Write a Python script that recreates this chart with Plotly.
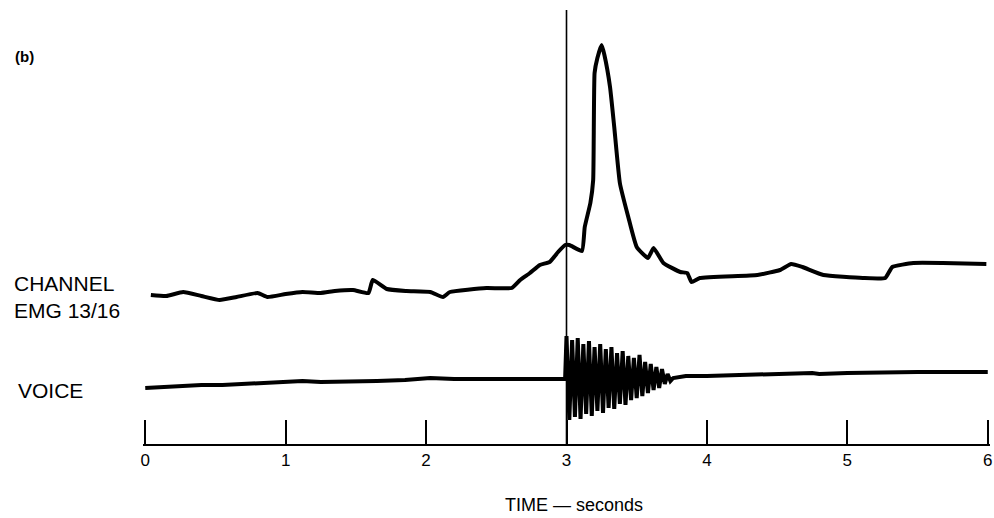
import plotly.graph_objects as go

# ---- data (x in seconds, y in trace amplitude units above the time axis) ----
emg_t = [0.04, 0.15, 0.27, 0.40, 0.53, 0.65, 0.80, 0.87, 1.00, 1.12, 1.25, 1.35, 1.48,
         1.59, 1.62, 1.72, 1.86, 2.03, 2.12, 2.17, 2.43, 2.61, 2.67, 2.74, 2.81, 2.88,
         2.94, 2.99, 3.02, 3.11, 3.13, 3.17, 3.19, 3.20, 3.22, 3.25, 3.27, 3.31, 3.34,
         3.38, 3.44, 3.50, 3.58, 3.62, 3.69, 3.81, 3.86, 3.89, 3.95, 4.36, 4.52, 4.60,
         4.68, 4.83, 5.11, 5.27, 5.32, 5.47, 5.68, 5.99]
emg_v = [149, 148, 152, 148, 144, 147, 151, 147, 150, 152, 151, 153, 154,
         151, 164, 155, 153, 152, 147, 152, 156, 156, 164, 171, 179, 182,
         192, 199, 199, 193, 217, 241, 264, 371, 386, 399, 389, 357, 317,
         261, 227, 197, 186, 196, 181, 172, 171, 162, 166, 169, 174, 180,
         177, 169, 166, 166, 177, 181, 181, 180]

voice_t = [0.00, 0.10, 0.20, 0.30, 0.40, 0.55, 0.70, 0.85, 1.05, 1.12, 1.25, 1.42, 1.50,
           1.65, 1.85, 2.03, 2.20, 2.40, 2.60, 2.80, 2.99,
           3.00, 3.02, 3.04, 3.06, 3.08, 3.10, 3.12, 3.14, 3.16, 3.18, 3.20, 3.22, 3.24,
           3.26, 3.28, 3.30, 3.32, 3.34, 3.36, 3.38, 3.40, 3.42, 3.44, 3.46, 3.48, 3.50,
           3.52, 3.54, 3.56, 3.58, 3.60, 3.62, 3.64, 3.66, 3.68, 3.70, 3.72, 3.74, 3.76,
           3.85, 4.00, 4.20, 4.40, 4.60, 4.75, 4.80, 5.00, 5.50, 6.00]
voice_v = [56, 57, 58, 58, 59, 59, 60, 61, 62, 63, 62, 62, 63,
           63, 64, 66, 65, 65, 65, 65, 65,
           108, 24, 104, 27, 106, 25, 100, 30, 103, 28, 97, 33, 100,
           31, 95, 36, 97, 35, 91, 40, 93, 39, 88, 44, 86, 46,
           89, 48, 82, 51, 80, 54, 77, 56, 75, 60, 70, 63, 66,
           68, 68, 69, 69, 70, 71, 70, 71, 72, 72]

tick_vals = [0, 1, 2, 3, 4, 5, 6]
tick_text = ["0", "1", "2", "3", "4", "5", "6"]
marker_time = 3

FONT = "Liberation Sans, Arial, Helvetica, sans-serif"

fig = go.Figure()
fig.add_trace(go.Scatter(x=emg_t, y=emg_v, mode="lines",
                         line=dict(color="black", width=4, shape="spline", smoothing=0.4),
                         hoverinfo="skip", showlegend=False))
fig.add_trace(go.Scatter(x=voice_t, y=voice_v, mode="lines",
                         line=dict(color="black", width=4),
                         hoverinfo="skip", showlegend=False))

fig.add_shape(type="line", xref="x", yref="paper", x0=marker_time, x1=marker_time,
              y0=0, y1=1, line=dict(color="black", width=1.6))

fig.add_annotation(x=0, y=388, xref="x", yref="y", xshift=-132, xanchor="left",
                   text="<b>(b)</b>", showarrow=False,
                   font=dict(family=FONT, size=15, color="black"))
fig.add_annotation(x=0, y=161, xref="x", yref="y", xshift=-133, xanchor="left",
                   text="CHANNEL", showarrow=False,
                   font=dict(family=FONT, size=21, color="black"))
fig.add_annotation(x=0, y=134, xref="x", yref="y", xshift=-133, xanchor="left",
                   text="EMG 13/16", showarrow=False,
                   font=dict(family=FONT, size=21, color="black"))
fig.add_annotation(x=0, y=54, xref="x", yref="y", xshift=-129, xanchor="left",
                   text="VOICE", showarrow=False,
                   font=dict(family=FONT, size=21, color="black"))
fig.add_annotation(x=3.05, y=0, xref="x", yref="paper", yshift=-61, yanchor="middle",
                   text="TIME \u2014 seconds", showarrow=False,
                   font=dict(family=FONT, size=18, color="black"))

fig.update_xaxes(range=[-0.016, 6.016], tickmode="array", tickvals=tick_vals, ticktext=tick_text,
                 ticks="inside", ticklen=24, tickwidth=1.5, tickcolor="black",
                 showline=True, linecolor="black", linewidth=1.5,
                 showgrid=False, zeroline=False, ticklabelstandoff=0,
                 ticklabeloverflow="allow",
                 tickfont=dict(family=FONT, size=17, color="black"))
fig.update_yaxes(range=[0, 434], visible=False, showgrid=False, zeroline=False)

fig.update_layout(width=994, height=518,
                  margin=dict(l=143, r=4, t=10, b=74, autoexpand=False),
                  plot_bgcolor="white", paper_bgcolor="white")

fig.write_html("out.html", config={"displayModeBar": False},
               post_script="document.body.style.margin='0';document.body.style.padding='0';")
